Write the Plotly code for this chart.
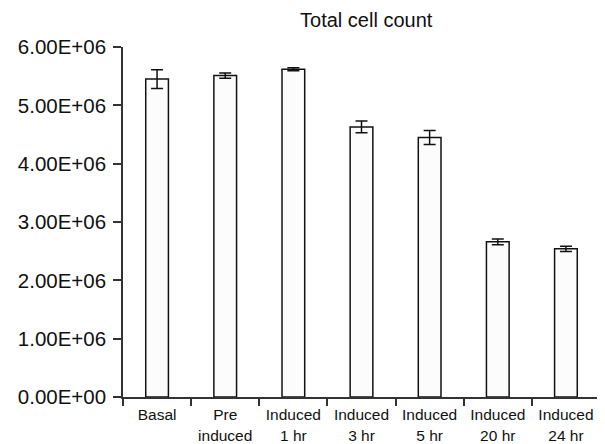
import plotly.graph_objects as go

categories = ["Basal", "Pre<br>induced", "Induced<br>1 hr", "Induced<br>3 hr",
              "Induced<br>5 hr", "Induced<br>20 hr", "Induced<br>24 hr"]
counts = [5.45e6, 5.51e6, 5.62e6, 4.63e6, 4.45e6, 2.66e6, 2.54e6]
errors = [0.16e6, 0.045e6, 0.025e6, 0.10e6, 0.12e6, 0.05e6, 0.045e6]
ytick_vals = [0, 1e6, 2e6, 3e6, 4e6, 5e6, 6e6]
ytick_text = ["0.00E+00", "1.00E+06", "2.00E+06", "3.00E+06",
              "4.00E+06", "5.00E+06", "6.00E+06"]

fig = go.Figure(go.Bar(
    x=categories, y=counts,
    width=0.333,
    marker=dict(color="#fcfcfc", line=dict(color="#111111", width=1.5)),
    error_y=dict(type="data", array=errors, visible=True,
                 color="#111111", thickness=1.5, width=6),
))

font_family = "Liberation Sans, Arial, sans-serif"
# page body has an 8px default margin, so the figure is sized to fit the window
fig.update_layout(
    width=597, height=436,
    margin=dict(l=115, r=5, t=39, b=47, autoexpand=False),
    paper_bgcolor="white", plot_bgcolor="white",
    showlegend=False,
    font=dict(family=font_family, color="#111111"),
    title=dict(text="Total cell count", x=0.6, xanchor="center",
               y=0.972, yanchor="middle",
               font=dict(size=20, family=font_family, color="#111111")),
    bargap=0.667,
)
fig.update_xaxes(
    showline=True, linecolor="#333333", linewidth=1.5,
    ticks="outside", ticklen=7, tickcolor="#333333", tickwidth=1.5,
    tickson="boundaries", showgrid=False, automargin=False,
    tickfont=dict(size=15.5, family=font_family, color="#111111"),
    ticklabelstandoff=3,
)
fig.update_yaxes(
    range=[0, 6e6], showline=True, linecolor="#333333", linewidth=1.5,
    ticks="outside", ticklen=8, tickcolor="#333333", tickwidth=1.5,
    tickvals=ytick_vals, ticktext=ytick_text, showgrid=False, zeroline=False,
    automargin=False,
    tickfont=dict(size=20.5, family=font_family, color="#111111"),
    ticklabelstandoff=3,
)

fig.write_html("out.html")
